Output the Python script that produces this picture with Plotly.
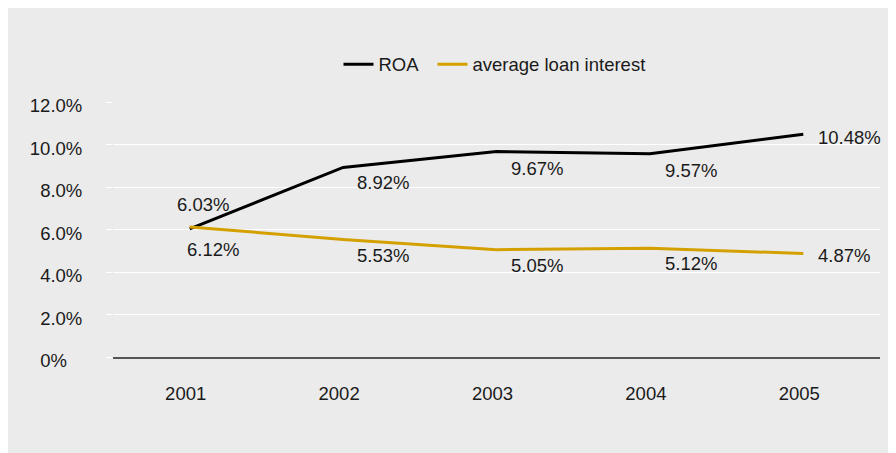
import plotly.graph_objects as go

years = ["2001", "2002", "2003", "2004", "2005"]
roa = [6.03, 8.92, 9.67, 9.57, 10.48]
loan_interest = [6.12, 5.53, 5.05, 5.12, 4.87]
y_tick_values = [0, 2, 4, 6, 8, 10, 12]
y_tick_labels = ["0%", "2.0%", "4.0%", "6.0%", "8.0%", "10.0%", "12.0%"]

# label offsets (px) relative to each point: (dx, dy-down)
roa_offsets = [(13, -24), (39.5, 15.3), (40, 17), (40.7, 17.3), (46.5, 3.4)]
loan_offsets = [(23.5, 23), (39.5, 16), (40, 15.5), (40.7, 15), (41, 2.4)]

FONT = "Liberation Sans, Arial, Helvetica, sans-serif"
FS = 18.5
TXT = "#1a1a1a"
ROA_COLOR = "#000000"
LOAN_COLOR = "#D4A000"
BG = "#ebebeb"

# the page body has an 8px margin; the figure is sized to fill the rest
PAGE_OFF = 8
W, H = 896 - PAGE_OFF, 453 - PAGE_OFF
L = 113 - PAGE_OFF
T = 101.5 - PAGE_OFF
R = W - (880 - PAGE_OFF)
B = H - (357.5 - PAGE_OFF)
pw, ph = W - L - R, H - T - B

fig = go.Figure()
fig.add_trace(go.Scatter(x=years, y=roa, mode="lines", name="ROA", legendwidth=49,
                         line=dict(color=ROA_COLOR, width=3)))
fig.add_trace(go.Scatter(x=years, y=loan_interest, mode="lines", name="average loan interest",
                         line=dict(color=LOAN_COLOR, width=3)))

annotations = []
for vals, offs in ((roa, roa_offsets), (loan_interest, loan_offsets)):
    for i, (v, (dx, dy)) in enumerate(zip(vals, offs)):
        annotations.append(dict(x=i, y=v, xref="x", yref="y", text=f"{v:.2f}%",
                                showarrow=False, xanchor="center", yanchor="middle",
                                xshift=dx, yshift=-dy,
                                font=dict(family=FONT, size=FS, color=TXT)))

ticktext = [t if "." in t else t + "\u00a0" * 3 for t in y_tick_labels]

fig.update_layout(
    width=W, height=H,
    margin=dict(l=L, r=R, t=T, b=B, pad=0, autoexpand=False),
    paper_bgcolor=BG,
    plot_bgcolor="rgba(0,0,0,0)",
    font=dict(family=FONT, size=FS, color=TXT),
    showlegend=True,
    legend=dict(orientation="h", x=(494.5 - 113) / pw, xanchor="center",
                y=(357.5 - 64) / ph, yanchor="middle",
                bgcolor="rgba(0,0,0,0)", font=dict(family=FONT, size=FS, color=TXT),
                traceorder="normal"),
    annotations=annotations,
    xaxis=dict(type="category", range=[-0.5, len(years) - 0.5], autorange=False,
               automargin=False, showgrid=False, showline=True, linecolor="#555555",
               linewidth=1.5, ticks="", ticklabelstandoff=19, ticklabelshift=-4,
               tickfont=dict(family=FONT, size=FS, color=TXT), fixedrange=True),
    yaxis=dict(range=[0, 12], autorange=False, automargin=False,
               tickvals=y_tick_values, ticktext=ticktext,
               showgrid=True, gridcolor="white", gridwidth=1.2, zeroline=False,
               showline=False, ticks="outside", ticklen=6, tickcolor="white",
               tickwidth=1.2, ticklabelstandoff=20, ticklabelshift=4,
               tickfont=dict(family=FONT, size=FS, color=TXT), fixedrange=True),
)

fig.write_html("out.html")
